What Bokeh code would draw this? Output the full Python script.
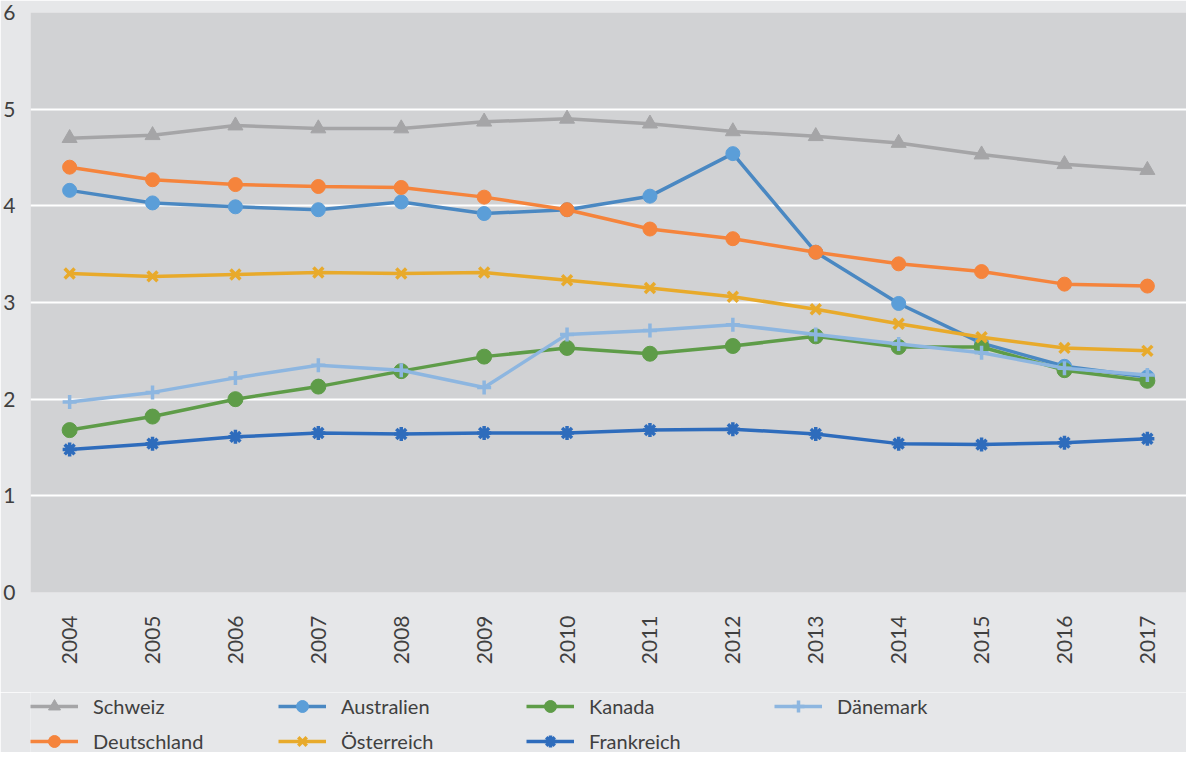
from bokeh.plotting import figure
from bokeh.layouts import column
from bokeh.models import FactorRange, Range1d, FixedTicker, Legend, LegendItem
from bokeh.embed import file_html
from bokeh.resources import INLINE
import math

years = ["2004", "2005", "2006", "2007", "2008", "2009", "2010",
         "2011", "2012", "2013", "2014", "2015", "2016", "2017"]

schweiz     = [4.70, 4.73, 4.83, 4.80, 4.80, 4.87, 4.90, 4.85, 4.77, 4.72, 4.65, 4.53, 4.43, 4.37]
australien  = [4.16, 4.03, 3.99, 3.96, 4.04, 3.92, 3.96, 4.10, 4.54, 3.52, 2.99, 2.58, 2.34, 2.23]
kanada      = [1.68, 1.82, 2.00, 2.13, 2.29, 2.44, 2.53, 2.47, 2.55, 2.65, 2.54, 2.54, 2.30, 2.19]
daenemark   = [1.97, 2.07, 2.22, 2.35, 2.30, 2.12, 2.67, 2.71, 2.77, 2.67, 2.57, 2.48, 2.32, 2.25]
deutschland = [4.40, 4.27, 4.22, 4.20, 4.19, 4.09, 3.96, 3.76, 3.66, 3.52, 3.40, 3.32, 3.19, 3.17]
oesterreich = [3.30, 3.27, 3.29, 3.31, 3.30, 3.31, 3.23, 3.15, 3.06, 2.93, 2.78, 2.64, 2.53, 2.50]
frankreich  = [1.48, 1.54, 1.61, 1.65, 1.64, 1.65, 1.65, 1.68, 1.69, 1.64, 1.54, 1.53, 1.55, 1.59]

y_ticks = [0, 1, 2, 3, 4, 5, 6]
grid_ticks = [1, 2, 3, 4, 5]

series = [
    ("Schweiz", schweiz, "#a5a5a7", "#a5a5a7", "triangle", 15),
    ("Australien", australien, "#4a88c2", "#5b9ed8", "circle", 14),
    ("Kanada", kanada, "#5e9c48", "#5e9c48", "circle", 15),
    ("Dänemark", daenemark, "#8db6e0", "#8db6e0", "cross", 14),
    ("Deutschland", deutschland, "#f5843c", "#f5843c", "circle", 14),
    ("Österreich", oesterreich, "#e8aa2b", "#e8aa2b", "x", 14),
    ("Frankreich", frankreich, "#2e6cbc", "#2e6cbc", "asterisk", 14),
]

FONT = "Lato"
TXT = "#404040"
BG = "#e6e7e9"


def add_series(fig, name, vals, lc, mc, marker, size):
    lr = fig.line(years, vals, line_color=lc, line_width=3.5)
    if marker in ("x", "cross", "asterisk"):
        mr = fig.scatter(years, vals, marker=marker, size=size, line_color=mc, line_width=3.5)
    else:
        mr = fig.scatter(years, vals, marker=marker, size=size, fill_color=mc, line_color=mc)
    return lr, mr


p = figure(width=1186, height=692, output_backend="svg", toolbar_location=None,
           x_range=FactorRange(*years, range_padding=-0.004),
           y_range=Range1d(0, 6),
           min_border_left=25, min_border_right=0, min_border_top=12, min_border_bottom=100)

p.background_fill_color = "#d1d2d4"
p.border_fill_color = BG
p.outline_line_color = None

p.xgrid.grid_line_color = None
p.ygrid.ticker = FixedTicker(ticks=grid_ticks)
p.ygrid.grid_line_color = "white"
p.ygrid.grid_line_width = 2

p.yaxis.ticker = FixedTicker(ticks=y_ticks)
for ax in (p.xaxis[0], p.yaxis[0]):
    ax.axis_line_color = None
    ax.major_tick_line_color = None
    ax.minor_tick_line_color = None
    ax.major_label_text_font = FONT
    ax.major_label_text_font_size = "21px"
    ax.major_label_text_color = TXT
p.yaxis.major_label_standoff = 9
p.xaxis.major_label_standoff = 17
p.xaxis.major_label_orientation = math.pi / 2

for s in series:
    add_series(p, *s)

# legend strip: same series drawn outside its visible y range, only the legend shows
lg = figure(width=1186, height=60, output_backend="svg", toolbar_location=None,
            x_range=FactorRange(*years), y_range=Range1d(20, 21),
            x_axis_type=None, y_axis_type=None,
            min_border_left=0, min_border_right=0, min_border_top=0, min_border_bottom=0)
lg.background_fill_color = BG
lg.border_fill_color = BG
lg.outline_line_color = None
lg.grid.visible = False

items = []
for s in series:
    lr, mr = add_series(lg, *s)
    items.append(LegendItem(label=s[0], renderers=[lr, mr]))

legend = Legend(items=items, orientation="horizontal", ncols=4,
                glyph_width=48, glyph_height=30, label_height=30,
                label_width=180, label_standoff=15, spacing=5,
                padding=0, margin=0, location=(0, -4),
                label_text_font=FONT, label_text_font_size="20px",
                label_text_color=TXT,
                background_fill_alpha=0, border_line_alpha=0)
lg.add_layout(legend)

layout = column(p, lg, spacing=0)
open("out.html", "w").write(file_html(layout, INLINE))
